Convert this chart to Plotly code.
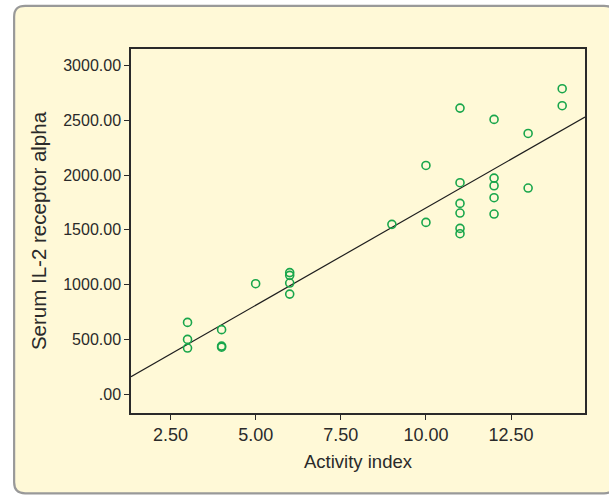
import numpy as np
import plotly.graph_objects as go

# Activity index and serum IL-2 receptor alpha per patient
activity = [3, 3, 3,
            4, 4, 4,
            5,
            6, 6, 6, 6,
            9,
            10, 10,
            11, 11, 11, 11, 11, 11,
            12, 12, 12, 12, 12,
            13, 13,
            14, 14]
il2r = [656, 501, 422,
        590, 440, 430,
        1009,
        1110, 1085, 1015, 914,
        1550,
        2087, 1568,
        2610, 1930, 1741, 1653, 1513, 1465,
        2507, 1972, 1902, 1793, 1644,
        2379, 1881,
        2787, 2632]

x_ticks = [2.5, 5.0, 7.5, 10.0, 12.5]
x_labels = ["2.50", "5.00", "7.50", "10.00", "12.50"]
y_ticks = [0, 500, 1000, 1500, 2000, 2500, 3000]
y_labels = [".00", "500.00", "1000.00", "1500.00", "2000.00", "2500.00", "3000.00"]

x_range = [1.34, 14.67]
y_range = [-170, 3149]

# least-squares fit line
slope, intercept = np.polyfit(activity, il2r, 1)
fit_x = np.array(x_range)
fit_y = slope * fit_x + intercept

W, H = 609, 495
ML, MR, MT, MB = 130.5, 24, 48.7, 82.3
PW, PH = W - ML - MR, H - MT - MB

def px(x):
    return (x - ML) / PW

def py(y):
    return (H - MB - y) / PH

def rounded_rect(x0, y0, x1, y1, r):
    pts = [
        f"M {px(x0 + r)} {py(y0)}",
        f"L {px(x1 - r)} {py(y0)}",
        f"Q {px(x1)} {py(y0)} {px(x1)} {py(y0 + r)}",
        f"L {px(x1)} {py(y1 - r)}",
        f"Q {px(x1)} {py(y1)} {px(x1 - r)} {py(y1)}",
        f"L {px(x0 + r)} {py(y1)}",
        f"Q {px(x0)} {py(y1)} {px(x0)} {py(y1 - r)}",
        f"L {px(x0)} {py(y0 + r)}",
        f"Q {px(x0)} {py(y0)} {px(x0 + r)} {py(y0)}",
        "Z",
    ]
    return " ".join(pts)

CREAM = "#FFF9D7"
INK = "#2a2a2a"
FONT = "Liberation Sans, Arial, sans-serif"

fig = go.Figure()
fig.add_trace(go.Scatter(
    x=fit_x, y=fit_y, mode="lines",
    line=dict(color="#1e1e1e", width=1.2),
    hoverinfo="skip", showlegend=False,
))
fig.add_trace(go.Scatter(
    x=activity, y=il2r, mode="markers",
    marker=dict(symbol="circle-open", size=8, color="#19A64B",
                line=dict(width=1.6, color="#19A64B")),
    showlegend=False,
))

fig.update_layout(
    width=W, height=H,
    margin=dict(l=ML, r=MR, t=MT, b=MB),
    paper_bgcolor="white",
    plot_bgcolor="rgba(0,0,0,0)",
    font=dict(family=FONT, size=16, color=INK),
    shapes=[dict(
        type="path", xref="paper", yref="paper", layer="below",
        path=rounded_rect(13.5, 5.5, 615, 493, 11),
        fillcolor=CREAM, line=dict(color="#999999", width=2.2),
    )],
    xaxis=dict(
        range=x_range, tickvals=x_ticks, ticktext=x_labels,
        showgrid=False, zeroline=False,
        showline=True, linecolor=INK, linewidth=1.5, mirror=True,
        ticks="outside", ticklen=5, tickwidth=1.2, tickcolor=INK,
        tickfont=dict(family=FONT, size=18, color=INK),
        title=dict(text="Activity index", font=dict(family=FONT, size=18.5, color=INK), standoff=11),
    ),
    yaxis=dict(
        range=y_range, tickvals=y_ticks, ticktext=y_labels,
        showgrid=False, zeroline=False,
        showline=True, linecolor=INK, linewidth=1.5, mirror=True,
        ticks="outside", ticklen=5, tickwidth=1.2, tickcolor=INK,
        tickfont=dict(family=FONT, size=16, color=INK),
        title=dict(text="Serum IL-2 receptor alpha", font=dict(family=FONT, size=20.5, color=INK), standoff=11),
    ),
)

fig.write_html("out.html")
